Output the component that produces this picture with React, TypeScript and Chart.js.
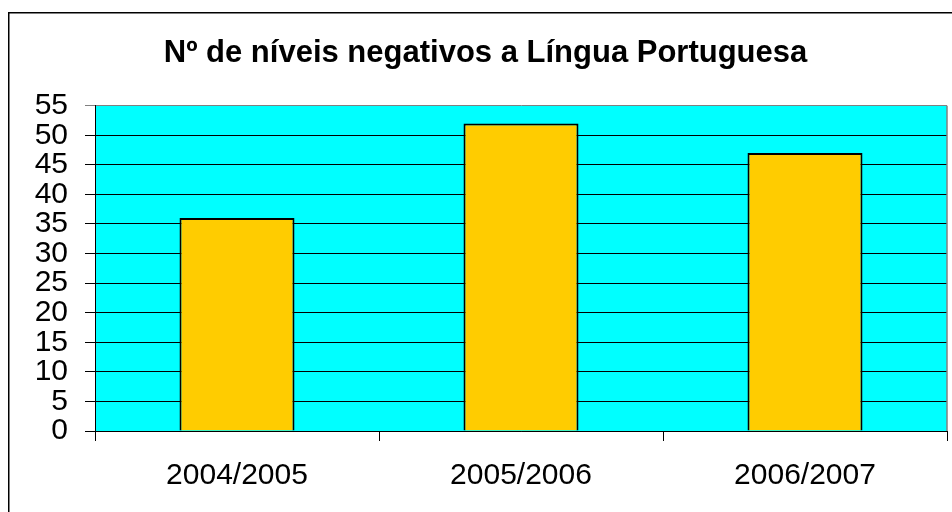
import React, { useEffect, useRef } from "react";
import { Chart, registerables } from "chart.js";

Chart.register(...registerables);

const categories = ["2004/2005", "2005/2006", "2006/2007"];
const values = [36, 52, 47];
const yMin = 0;
const yMax = 55;
const yStep = 5;
const titleText = "Nº de níveis negativos a Língua Portuguesa";

const FONT = "'Liberation Sans', Arial, Helvetica, sans-serif";

export default function App() {
  const ref = useRef<HTMLCanvasElement | null>(null);

  useEffect(() => {
    if (!ref.current) return;
    const bgPlugin = {
      id: "bgPlugin",
      beforeDraw(chart: any) {
        const { ctx, chartArea, width, height } = chart;
        ctx.save();
        ctx.fillStyle = "#ffffff";
        ctx.fillRect(0, 0, width, height);
        ctx.fillStyle = "#00FFFF";
        ctx.fillRect(
          chartArea.left,
          chartArea.top,
          chartArea.right - chartArea.left,
          chartArea.bottom - chartArea.top
        );
        ctx.strokeStyle = "#000000";
        ctx.lineWidth = 1.5;
        ctx.beginPath();
        ctx.moveTo(8.75, height + 2);
        ctx.lineTo(8.75, 12.75);
        ctx.lineTo(width + 2, 12.75);
        ctx.stroke();
        ctx.restore();
      },
      afterDraw(chart: any) {
        const { ctx, chartArea } = chart;
        ctx.save();
        ctx.strokeStyle = "#808080";
        ctx.lineWidth = 1.5;
        ctx.beginPath();
        ctx.moveTo(chartArea.right, chartArea.top);
        ctx.lineTo(chartArea.right, chartArea.bottom);
        ctx.stroke();
        ctx.restore();
      },
    };

    const chart = new Chart(ref.current, {
      type: "bar",
      data: {
        labels: categories,
        datasets: [
          {
            data: values,
            backgroundColor: "#FFCC00",
            borderColor: "#000000",
            borderWidth: 2,
            barPercentage: 0.405,
            categoryPercentage: 1.0,
          },
        ],
      },
      options: {
        responsive: false,
        animation: false,
        layout: { padding: { top: 12, left: 24, right: 5, bottom: 0 } },
        plugins: {
          legend: { display: false },
          tooltip: { enabled: false },
          title: {
            display: true,
            text: titleText,
            color: "#000000",
            font: { family: FONT, size: 31, weight: "bold" },
            padding: { top: 22.4, bottom: 34.1 },
          },
        },
        scales: {
          x: {
            afterFit: (scale: any) => {
              scale.height = 81;
            },
            grid: {
              drawOnChartArea: false,
              drawTicks: true,
              tickLength: 10,
              color: "#000000",
              tickColor: "#000000",
            },
            border: { display: true, color: "#000000", width: 1 },
            ticks: {
              color: "#000000",
              font: { family: FONT, size: 30 },
              padding: 17,
              maxRotation: 0,
              autoSkip: false,
            },
          },
          y: {
            min: yMin,
            max: yMax,
            afterFit: (scale: any) => {
              scale.width = 71;
            },
            grid: {
              drawTicks: true,
              tickLength: 10,
              lineWidth: 1,
              color: (ctx: any) =>
                ctx.tick && ctx.tick.value === yMax ? "#808080" : "#000000",
              tickColor: (ctx: any) =>
                ctx.tick && ctx.tick.value === yMax ? "#808080" : "#000000",
            },
            border: { display: true, color: "#000000", width: 1 },
            ticks: {
              stepSize: yStep,
              autoSkip: false,
              maxTicksLimit: 20,
              color: "#000000",
              font: { family: FONT, size: 30 },
              padding: 17,
            },
          },
        },
      },
      plugins: [bgPlugin],
    } as any);

    return () => chart.destroy();
  }, []);

  return (
    <div
      style={{
        position: "fixed",
        left: 0,
        top: 0,
        width: 952,
        height: 512,
        background: "#ffffff",
      }}
    >
      <canvas ref={ref} width={952} height={512} style={{ display: "block" }} />
    </div>
  );
}
